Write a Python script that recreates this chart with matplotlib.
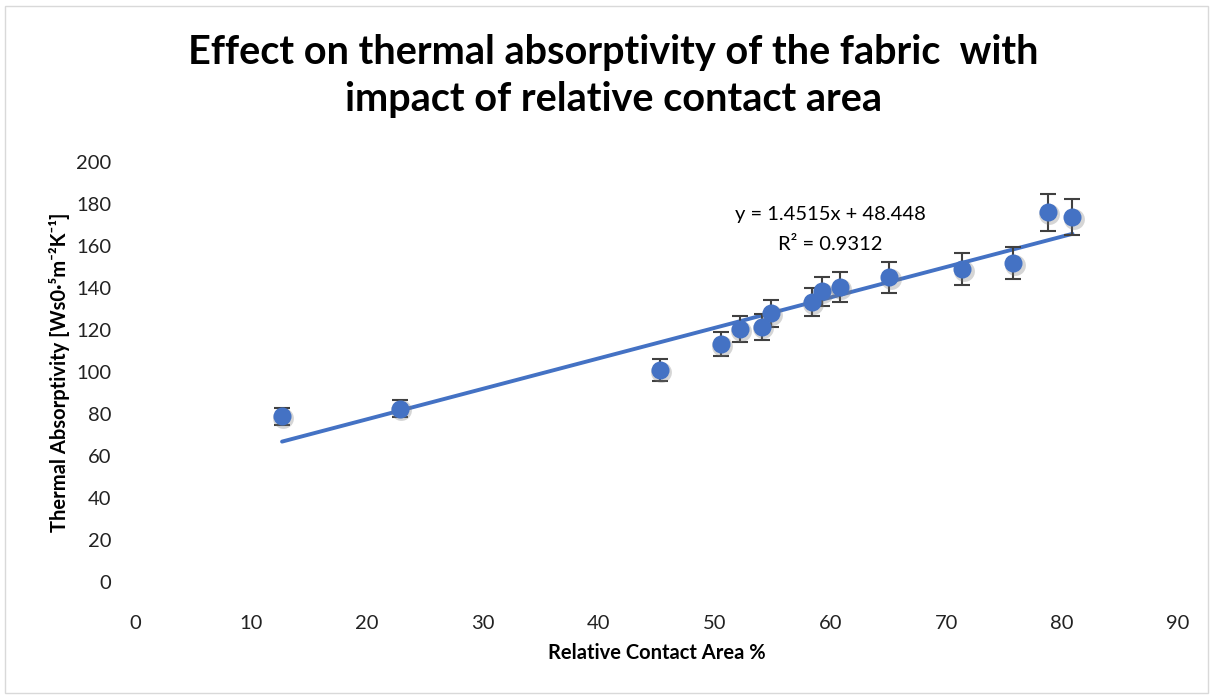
import matplotlib
matplotlib.use("Agg")
import matplotlib.pyplot as plt
from matplotlib.patches import Rectangle

# values
contact_area = [12.7, 22.9, 45.3, 50.6, 52.2, 54.1, 54.9, 58.4, 59.3, 60.8,
                65.1, 71.4, 75.8, 78.8, 80.9]
absorptivity = [79.0, 82.6, 101.0, 113.3, 120.5, 121.6, 128.0, 133.3, 138.6,
                140.5, 145.2, 149.0, 151.9, 176.2, 173.8]
err = [4.0, 4.1, 5.1, 5.7, 6.0, 6.1, 6.4, 6.7, 6.9, 7.0, 7.3, 7.5, 7.6, 8.8, 8.7]
slope, intercept = 1.4515, 48.448
r2 = 0.9312
x_ticks = [0, 10, 20, 30, 40, 50, 60, 70, 80, 90]
y_ticks = [0, 20, 40, 60, 80, 100, 120, 140, 160, 180, 200]

plt.rcParams['font.family'] = ['Lato', 'DejaVu Sans']

blue = '#4472C4'

fig = plt.figure(figsize=(12.15, 6.96), dpi=100)
ax = fig.add_axes([0.111, 0.1638, 0.8585, 0.6032])

# chart border
fig.patches.append(Rectangle((0.004, 0.004), 0.99, 0.988, transform=fig.transFigure,
                             fill=False, edgecolor='#d9d9d9', linewidth=1))

# trendline over data range
x0, x1 = min(contact_area), max(contact_area)
ax.plot([x0, x1], [slope * x0 + intercept, slope * x1 + intercept],
        color=blue, linewidth=2.8, zorder=2, solid_capstyle='round')

ax.errorbar(contact_area, absorptivity, yerr=err, fmt='none', ecolor='#404040',
            elinewidth=1.5, capsize=5.5, capthick=1.5, zorder=3)
# soft shadow under markers
ax.plot([v + 0.1 for v in contact_area], [v - 0.8 for v in absorptivity], 'o',
        color='#777777', alpha=0.3, markersize=15, markeredgewidth=0, zorder=3)
ax.plot(contact_area, absorptivity, 'o', color=blue, markersize=13,
        markeredgewidth=0, zorder=4)

ax.text(60.0, 175, 'y = 1.4515x + 48.448', ha='center', va='center', fontsize=14.5)
ax.text(60.0, 161, 'R² = 0.9312', ha='center', va='center', fontsize=14.5)

ax.set_xlim(0, 90)
ax.set_ylim(0, 200)
ax.set_xticks(x_ticks)
ax.set_yticks(y_ticks)
ax.tick_params(length=0, labelsize=14.5, colors='#222222')
ax.tick_params(axis='x', pad=24)
ax.tick_params(axis='y', pad=17)
for s in ax.spines.values():
    s.set_visible(False)

ax.set_xlabel('Relative Contact Area %', fontsize=14.5, fontweight='bold', labelpad=8)
ax.set_ylabel('Thermal Absorptivity [Ws0·⁵m⁻²K⁻¹]', fontsize=14.5,
              fontweight='bold', labelpad=4)

fig.text(0.505, 0.891, 'Effect on thermal absorptivity of the fabric  with\nimpact of relative contact area',
         ha='center', va='center', fontsize=28.5, fontweight='bold', linespacing=1.35)

fig.savefig('out.png', dpi=100)
